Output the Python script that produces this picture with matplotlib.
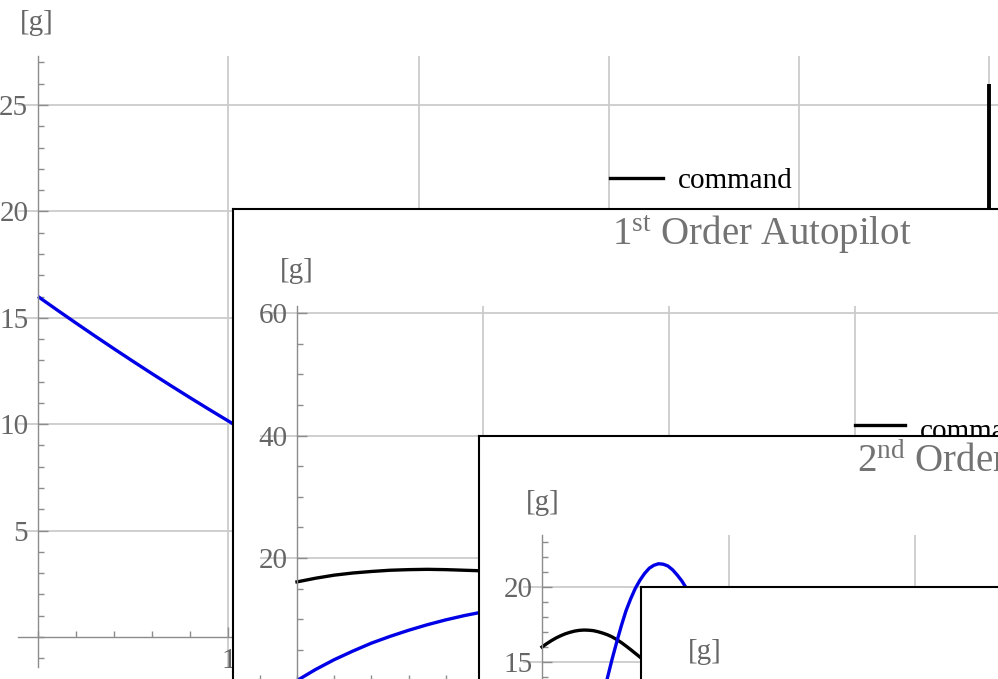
import matplotlib
matplotlib.use("Agg")
import matplotlib.pyplot as plt
from matplotlib.ticker import FixedLocator, MultipleLocator
from matplotlib.lines import Line2D

# ---------------------------------------------------------------- data
# Ideal autopilot (outer panel): achieved acceleration and command spike
main_t = [0.0, 0.1, 0.2, 0.3, 0.4, 0.5, 0.6, 0.7, 0.8, 0.9, 1.0, 1.05]
main_g = [16.0, 15.37, 14.75, 14.14, 13.54, 12.95, 12.37, 11.80, 11.24, 10.69, 10.15, 9.88]
command_t = [5.0, 5.0]
command_g = [26.0, 0.0]

# 1st order autopilot
ap1_t = [0.0, 0.1, 0.2, 0.3, 0.4, 0.5, 0.6, 0.7, 0.8, 0.9, 1.0]
ap1_cmd = [16.1, 16.7, 17.2, 17.55, 17.8, 18.0, 18.1, 18.15, 18.1, 18.0, 17.9]
ap1_out = [0.0, 1.8, 3.4, 4.8, 6.1, 7.2, 8.2, 9.1, 9.9, 10.6, 11.2]

# 2nd order autopilot
ap2_cmd_t = [0.0, 0.025, 0.05, 0.075, 0.1, 0.125, 0.15, 0.175, 0.2, 0.225, 0.25,
             0.275, 0.3, 0.325, 0.35, 0.375, 0.4, 0.425, 0.45, 0.475, 0.5, 0.525, 0.55]
ap2_cmd = [16.0, 16.22, 16.42, 16.6, 16.75, 16.88, 16.98, 17.06, 17.11, 17.13, 17.12,
           17.09, 17.02, 16.93, 16.82, 16.68, 16.5, 16.3, 16.07, 15.83, 15.58, 15.33, 15.07]
ap2_out_t = [0.3, 0.325, 0.35, 0.375, 0.4, 0.425, 0.45, 0.475, 0.5, 0.525, 0.55,
             0.575, 0.6, 0.625, 0.65, 0.675, 0.7, 0.725, 0.75, 0.775, 0.8]
ap2_out = [11.3, 12.6, 13.9, 15.15, 16.3, 17.4, 18.4, 19.2, 19.9, 20.45, 20.9,
           21.25, 21.45, 21.55, 21.52, 21.4, 21.15, 20.8, 20.4, 19.9, 19.3]

legend_label = "command"
unit_label = "[g]"
title_1 = r"$\mathrm{1^{st}}$ Order Autopilot"
title_2 = r"$\mathrm{2^{nd}}$ Order Autopilot"

# ---------------------------------------------------------------- style
plt.rcParams["font.family"] = ["Liberation Serif", "DejaVu Serif"]
plt.rcParams["mathtext.fontset"] = "custom"
plt.rcParams["mathtext.rm"] = "Liberation Serif"
plt.rcParams["mathtext.it"] = "Liberation Serif:italic"
plt.rcParams["mathtext.bf"] = "Liberation Serif:bold"

W, H = 998, 679
AXIS_C = "#8c8c8c"
GRID_C = "#cbcbcb"
LABEL_C = "#666666"
BLUE = "#0000e6"
FS = 21
TITLE_FS = 28
LW = 2.4

fig = plt.figure(figsize=(W / 100, H / 100), dpi=100)
fig.patch.set_facecolor("white")


def fx(x):
    return x / W


def fy(y):
    return 1 - y / H


def frame(left, top):
    ax = fig.add_axes([fx(left), fy(top + 2000), 2000 / W, 2000 / H])
    ax.set_facecolor("white")
    ax.set_xticks([])
    ax.set_yticks([])
    for s in ax.spines.values():
        s.set_color("black")
        s.set_linewidth(1.5)
    return ax


def plot_axes(x0, sx, y0, sy, xlim, ylim, xmaj, ymaj, xmin_step, ymin_step):
    left = x0 + xlim[0] * sx
    right = x0 + xlim[1] * sx
    top = y0 - ylim[1] * sy
    bottom = y0 - ylim[0] * sy
    ax = fig.add_axes([fx(left), fy(bottom), (right - left) / W, (bottom - top) / H])
    ax.set_xlim(xlim)
    ax.set_ylim(ylim)
    ax.patch.set_visible(False)
    for side in ("top", "right"):
        ax.spines[side].set_visible(False)
    ax.spines["left"].set_position(("data", 0))
    ax.spines["bottom"].set_position(("data", 0))
    for side in ("left", "bottom"):
        ax.spines[side].set_color(AXIS_C)
        ax.spines[side].set_linewidth(1.0)
    ax.xaxis.set_major_locator(FixedLocator(xmaj))
    ax.yaxis.set_major_locator(FixedLocator(ymaj))
    ax.xaxis.set_minor_locator(MultipleLocator(xmin_step))
    ax.yaxis.set_minor_locator(MultipleLocator(ymin_step))
    ax.tick_params(which="both", direction="in", color=AXIS_C, width=1.0,
                   labelsize=FS, labelcolor=LABEL_C)
    ax.tick_params(which="major", length=7)
    ax.tick_params(which="minor", length=4)
    ax.tick_params(axis="y", pad=7)
    ax.tick_params(axis="x", pad=8)
    ax.grid(True, which="major", color=GRID_C, linewidth=1.3)
    ax.set_axisbelow(True)
    return ax


def legend_entry(ax, x0, x1, y_line, y_base, text):
    ax.add_line(Line2D([fx(x0), fx(x1)], [fy(y_line), fy(y_line)], color="black",
                       lw=LW, transform=fig.transFigure, clip_on=False))
    ax.text(fx(x1 + 15), fy(y_base), text, transform=fig.transFigure, fontsize=FS,
            color="black", ha="left", va="baseline")


# ---------------------------------------------------------------- outer panel
ax0 = plot_axes(38, 190.3, 637, 21.28, (-0.105, 5.2), (-1.4, 27.3),
                [1, 2, 3, 4, 5], [5, 10, 15, 20, 25], 0.2, 1)
ax0.plot(main_t, main_g, color=BLUE, lw=LW, solid_capstyle="butt")
ax0.plot(command_t, command_g, color="black", lw=LW + 0.4, solid_capstyle="butt")
ax0.text(fx(37), fy(23), unit_label, transform=fig.transFigure, fontsize=FS,
         color=LABEL_C, ha="center", va="center")
legend_entry(ax0, 610, 663, 178, 188, legend_label)

# ---------------------------------------------------------------- 1st order
f1 = frame(233, 209)
f1.text(fx(762), fy(245), title_1, transform=fig.transFigure, fontsize=TITLE_FS,
        color="#737373", ha="center", va="baseline")
f1.text(fx(297), fy(271), unit_label, transform=fig.transFigure, fontsize=FS,
        color=LABEL_C, ha="center", va="center")
ax1 = plot_axes(297, 186, 680.5, 6.125, (-0.2, 6.0), (-12, 61.2),
                [1, 2, 3, 4, 5], [20, 40, 60], 0.2, 5)
ax1.plot(ap1_t, ap1_cmd, color="black", lw=LW)
ax1.plot(ap1_t, ap1_out, color=BLUE, lw=LW)
legend_entry(ax1, 855, 905, 425, 439, legend_label)

# ---------------------------------------------------------------- 2nd order
f2 = frame(479, 436)
f2.text(fx(857), fy(472), title_2, transform=fig.transFigure, fontsize=TITLE_FS,
        color="#737373", ha="left", va="baseline")
f2.text(fx(543), fy(503), unit_label, transform=fig.transFigure, fontsize=FS,
        color=LABEL_C, ha="center", va="center")
ax2 = plot_axes(542, 186.5, 887, 15.0, (-0.1, 6.0), (-1.5, 23.47),
                [1, 2, 3, 4, 5], [5, 10, 15, 20], 0.2, 1)
ax2.plot(ap2_cmd_t, ap2_cmd, color="black", lw=LW)
ax2.plot(ap2_out_t, ap2_out, color=BLUE, lw=LW)

# ---------------------------------------------------------------- next panel
f3 = frame(641, 587)
f3.text(fx(705), fy(652), unit_label, transform=fig.transFigure, fontsize=FS,
        color=LABEL_C, ha="center", va="center")

fig.savefig("out.png", dpi=100, facecolor="white")
